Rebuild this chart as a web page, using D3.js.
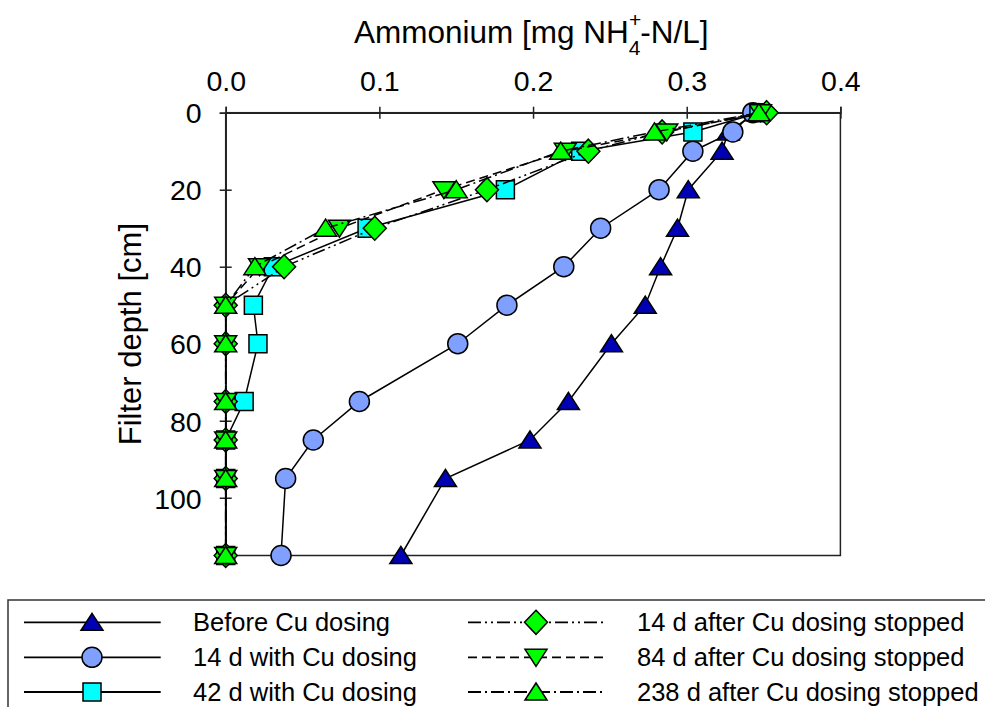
<!DOCTYPE html>
<html><head><meta charset="utf-8">
<script src="https://cdn.jsdelivr.net/npm/d3@7"></script>
<style>
html,body{margin:0;padding:0;background:#fff;}
svg{display:block;font-family:"Liberation Sans",Arial,sans-serif;}
</style></head>
<body>
<svg id="c" width="985" height="707"></svg>
<script>
// ---- data ----
const depths = [0, 5, 10, 20, 30, 40, 50, 60, 75, 85, 95, 115];
const seriesNames = ["Before Cu dosing", "14 d with Cu dosing", "42 d with Cu dosing",
  "14 d after Cu dosing stopped", "84 d after Cu dosing stopped", "238 d after Cu dosing stopped"];
const beforeCu  = [0.345, 0.327, 0.323, 0.301, 0.294, 0.283, 0.273, 0.251, 0.223, 0.198, 0.143, 0.114];
const with14    = [0.343, 0.330, 0.304, 0.282, 0.244, 0.220, 0.183, 0.151, 0.087, 0.057, 0.039, 0.036];
const with42    = [0.347, 0.304, 0.231, 0.182, 0.092, 0.031, 0.018, 0.021, 0.012, 0, 0, 0];
const after14   = [0.352, 0.284, 0.236, 0.170, 0.097, 0.038, 0, 0, 0, 0, 0, 0];
const after84   = [0.348, 0.287, 0.221, 0.142, 0.074, 0.022, 0, 0, 0, 0, 0, 0];
const after238  = [0.347, 0.279, 0.218, 0.150, 0.065, 0.019, 0, 0, 0, 0, 0, 0];
const xTicks = [0, 0.1, 0.2, 0.3, 0.4];
const yTicks = [0, 20, 40, 60, 80, 100];

// ---- styles ----
const seriesValues = [beforeCu, with14, with42, after14, after84, after238];
const fills = ["#0000b4", "#80a0ff", "#00ffff", "#00ff00", "#00ff00", "#00ff00"];
const shapes = ["tri", "circle", "square", "diamond", "tridown", "tri"];
const dashes = [null, null, null, "13,4,2,4,2,4", "9,5", "13,4,2,4"];

const svg = d3.select("#c");
const x = d3.scaleLinear().domain([0, 0.4]).range([225.7, 840.4]);
const y = d3.scaleLinear().domain([0, 115]).range([112.7, 555.5]);

function shapePath(s) {
  if (s === "tri") return "M0,-9L11,8L-11,8Z";
  if (s === "tridown") return "M0,9L11,-8L-11,-8Z";
  if (s === "square") return "M-9,-9H9V9H-9Z";
  if (s === "diamond") return "M0,-12L11.5,0L0,12L-11.5,0Z";
  return d3.symbol().type(d3.symbolCircle).size(Math.PI * 100)();
}

// box
svg.append("rect").attr("x", x(0)).attr("y", y(0))
  .attr("width", x(0.4) - x(0)).attr("height", y(115) - y(0))
  .attr("fill", "none").attr("stroke", "#222").attr("stroke-width", 1.5);

// axes
const gx = svg.append("g").attr("transform", `translate(0,${y(0)})`)
  .call(d3.axisTop(x).tickValues(xTicks).tickFormat(d3.format(".1f")).tickSize(6));
gx.select(".domain").attr("stroke", "#222").attr("stroke-width", 1.5);
gx.selectAll(".tick line").attr("y1", 6).attr("y2", -6).attr("stroke", "#222").attr("stroke-width", 1.5);
gx.selectAll(".tick text").attr("y", -21.5).attr("dy", 0)
  .attr("font-size", 28.5).attr("fill", "#000").attr("font-family", "Liberation Sans, Arial, sans-serif");

const gy = svg.append("g").attr("transform", `translate(${x(0)},0)`)
  .call(d3.axisLeft(y).tickValues(yTicks).tickFormat(d3.format("d")).tickSize(6));
gy.select(".domain").attr("stroke", "#222").attr("stroke-width", 1.5);
gy.selectAll(".tick line").attr("x1", 6).attr("x2", -6).attr("stroke", "#222").attr("stroke-width", 1.5);
gy.selectAll(".tick text").attr("x", -24).attr("dy", "0.36em")
  .attr("font-size", 28.5).attr("fill", "#000").attr("font-family", "Liberation Sans, Arial, sans-serif");

// axis titles
const t = svg.append("text").attr("x", 354).attr("y", 43.3).attr("font-size", 31.5).attr("fill", "#000");
t.append("tspan").text("Ammonium [mg NH");
t.append("tspan").attr("font-size", 21).attr("dy", 11.7).text("4");
t.append("tspan").attr("font-size", 21).attr("dx", -11.5).attr("dy", -28.5).text("+");
t.append("tspan").attr("dx", -1).attr("dy", 16.8).text("-N/L]");

svg.append("text").attr("transform", `translate(140.5,${(y(0) + y(115)) / 2}) rotate(-90)`)
  .attr("text-anchor", "middle").attr("font-size", 31).attr("fill", "#000")
  .text("Filter depth [cm]");

// series
const line = d3.line().x(d => x(d.v)).y(d => y(d.d));
seriesValues.forEach((vals, i) => {
  const pts = vals.map((v, k) => ({ v, d: depths[k] }));
  const g = svg.append("g");
  g.append("path").attr("d", line(pts)).attr("fill", "none").attr("stroke", "#000")
    .attr("stroke-width", 1.5).attr("stroke-dasharray", dashes[i]);
  g.selectAll("path.m").data(pts).enter().append("path").attr("class", "m")
    .attr("d", shapePath(shapes[i]))
    .attr("transform", d => `translate(${x(d.v)},${y(d.d)})`)
    .attr("fill", fills[i]).attr("stroke", "#000").attr("stroke-width", 1.5);
});

// legend
svg.append("rect").attr("x", 8).attr("y", 600).attr("width", 990).attr("height", 130)
  .attr("fill", "#fff").attr("stroke", "#333").attr("stroke-width", 1.5);
const rowY = [622.3, 657.3, 692];
const cols = [{ x1: 24, x2: 160.7, mx: 92, tx: 193 }, { x1: 468, x2: 603, mx: 536, tx: 637 }];
seriesNames.forEach((name, i) => {
  const c = cols[Math.floor(i / 3)], ry = rowY[i % 3];
  const g = svg.append("g");
  g.append("line").attr("x1", c.x1).attr("x2", c.x2).attr("y1", ry).attr("y2", ry)
    .attr("stroke", "#000").attr("stroke-width", 1.8).attr("stroke-dasharray", dashes[i]);
  g.append("path").attr("d", shapePath(shapes[i])).attr("transform", `translate(${c.mx},${ry})`)
    .attr("fill", fills[i]).attr("stroke", "#000").attr("stroke-width", 1.5);
  g.append("text").attr("x", c.tx).attr("y", ry + 8.5).attr("font-size", 25.5).attr("fill", "#000").text(name);
});
</script>
</body></html>
